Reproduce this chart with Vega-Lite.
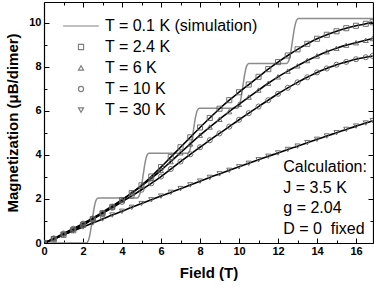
{
  "$schema": "https://vega.github.io/schema/vega-lite/v6.json",
  "width": 329,
  "height": 241,
  "autosize": {"type": "none"},
  "padding": {"left": 44, "top": 2, "right": 1, "bottom": 46},
  "background": "white",
  "config": {
    "view": {"stroke": null},
    "font": "Liberation Sans",
    "axis": {
      "domainColor": "black", "domainWidth": 1.2, "tickColor": "black", "tickWidth": 1,
      "labelFont": "Liberation Sans", "labelFontWeight": "bold", "labelFontSize": 11, "labelColor": "black",
      "titleFont": "Liberation Sans", "titleFontWeight": "bold", "titleFontSize": 15, "titleColor": "black",
      "grid": false
    }
  },
  "datasets": {
    "sim": [
      {"B":0,"M":0},{"B":2.17,"M":0},{"B":2.27,"M":0.1},{"B":2.37,"M":0.45},{"B":2.47,"M":1.02},{"B":2.57,"M":1.59},{"B":2.67,"M":1.94},{"B":2.77,"M":2.04},
      {"B":4.78,"M":2.04},{"B":4.88,"M":2.14},{"B":4.98,"M":2.49},{"B":5.08,"M":3.06},{"B":5.18,"M":3.63},{"B":5.28,"M":3.98},{"B":5.38,"M":4.08},
      {"B":7.36,"M":4.08},{"B":7.46,"M":4.18},{"B":7.56,"M":4.53},{"B":7.66,"M":5.1},{"B":7.76,"M":5.67},{"B":7.86,"M":6.02},{"B":7.96,"M":6.12},
      {"B":9.9,"M":6.12},{"B":10.0,"M":6.22},{"B":10.1,"M":6.57},{"B":10.2,"M":7.14},{"B":10.3,"M":7.71},{"B":10.4,"M":8.06},{"B":10.5,"M":8.16},
      {"B":12.44,"M":8.16},{"B":12.54,"M":8.26},{"B":12.64,"M":8.61},{"B":12.74,"M":9.18},{"B":12.84,"M":9.75},{"B":12.94,"M":10.1},{"B":13.04,"M":10.2},
      {"B":16.87,"M":10.2}
    ],
    "meas": [
      {"T":"2.4 K","B":0,"M":0},{"T":"2.4 K","B":0.5,"M":0.17},{"T":"2.4 K","B":1,"M":0.37},{"T":"2.4 K","B":1.5,"M":0.58},{"T":"2.4 K","B":2,"M":0.82},{"T":"2.4 K","B":2.5,"M":1.08},{"T":"2.4 K","B":3,"M":1.35},{"T":"2.4 K","B":3.5,"M":1.64},{"T":"2.4 K","B":4,"M":1.95},{"T":"2.4 K","B":4.5,"M":2.27},
      {"T":"2.4 K","B":5,"M":2.62},{"T":"2.4 K","B":5.5,"M":3.02},{"T":"2.4 K","B":6,"M":3.45},{"T":"2.4 K","B":6.5,"M":3.9},{"T":"2.4 K","B":7,"M":4.35},{"T":"2.4 K","B":7.5,"M":4.8},{"T":"2.4 K","B":8,"M":5.25},{"T":"2.4 K","B":8.5,"M":5.68},{"T":"2.4 K","B":9,"M":6.1},{"T":"2.4 K","B":9.5,"M":6.49},
      {"T":"2.4 K","B":10,"M":6.85},{"T":"2.4 K","B":10.5,"M":7.2},{"T":"2.4 K","B":11,"M":7.55},{"T":"2.4 K","B":11.5,"M":7.9},{"T":"2.4 K","B":12,"M":8.22},{"T":"2.4 K","B":12.5,"M":8.52},{"T":"2.4 K","B":13,"M":8.8},{"T":"2.4 K","B":13.5,"M":9.05},{"T":"2.4 K","B":14,"M":9.28},{"T":"2.4 K","B":14.5,"M":9.46},
      {"T":"2.4 K","B":15,"M":9.62},{"T":"2.4 K","B":15.5,"M":9.76},{"T":"2.4 K","B":16,"M":9.87},{"T":"2.4 K","B":16.5,"M":9.96},{"T":"2.4 K","B":16.85,"M":10.03},

      {"T":"6 K","B":0,"M":0},{"T":"6 K","B":0.5,"M":0.2},{"T":"6 K","B":1,"M":0.42},{"T":"6 K","B":1.5,"M":0.64},{"T":"6 K","B":2,"M":0.88},{"T":"6 K","B":2.5,"M":1.13},{"T":"6 K","B":3,"M":1.4},{"T":"6 K","B":3.5,"M":1.68},{"T":"6 K","B":4,"M":1.97},{"T":"6 K","B":4.5,"M":2.28},
      {"T":"6 K","B":5,"M":2.6},{"T":"6 K","B":5.5,"M":2.94},{"T":"6 K","B":6,"M":3.3},{"T":"6 K","B":6.5,"M":3.7},{"T":"6 K","B":7,"M":4.1},{"T":"6 K","B":7.5,"M":4.5},{"T":"6 K","B":8,"M":4.9},{"T":"6 K","B":8.5,"M":5.27},{"T":"6 K","B":9,"M":5.62},{"T":"6 K","B":9.5,"M":5.97},
      {"T":"6 K","B":10,"M":6.3},{"T":"6 K","B":10.5,"M":6.63},{"T":"6 K","B":11,"M":6.95},{"T":"6 K","B":11.5,"M":7.26},{"T":"6 K","B":12,"M":7.55},{"T":"6 K","B":12.5,"M":7.81},{"T":"6 K","B":13,"M":8.05},{"T":"6 K","B":13.5,"M":8.29},{"T":"6 K","B":14,"M":8.5},{"T":"6 K","B":14.5,"M":8.69},
      {"T":"6 K","B":15,"M":8.85},{"T":"6 K","B":15.5,"M":8.99},{"T":"6 K","B":16,"M":9.1},{"T":"6 K","B":16.5,"M":9.21},{"T":"6 K","B":16.85,"M":9.29},

      {"T":"10 K","B":0,"M":0},{"T":"10 K","B":0.5,"M":0.21},{"T":"10 K","B":1,"M":0.43},{"T":"10 K","B":1.5,"M":0.65},{"T":"10 K","B":2,"M":0.88},{"T":"10 K","B":2.5,"M":1.11},{"T":"10 K","B":3,"M":1.35},{"T":"10 K","B":3.5,"M":1.6},{"T":"10 K","B":4,"M":1.87},{"T":"10 K","B":4.5,"M":2.14},
      {"T":"10 K","B":5,"M":2.42},{"T":"10 K","B":5.5,"M":2.71},{"T":"10 K","B":6,"M":3.02},{"T":"10 K","B":6.5,"M":3.36},{"T":"10 K","B":7,"M":3.7},{"T":"10 K","B":7.5,"M":4.03},{"T":"10 K","B":8,"M":4.35},{"T":"10 K","B":8.5,"M":4.67},{"T":"10 K","B":9,"M":4.98},{"T":"10 K","B":9.5,"M":5.29},
      {"T":"10 K","B":10,"M":5.6},{"T":"10 K","B":10.5,"M":5.9},{"T":"10 K","B":11,"M":6.2},{"T":"10 K","B":11.5,"M":6.49},{"T":"10 K","B":12,"M":6.78},{"T":"10 K","B":12.5,"M":7.05},{"T":"10 K","B":13,"M":7.3},{"T":"10 K","B":13.5,"M":7.53},{"T":"10 K","B":14,"M":7.75},{"T":"10 K","B":14.5,"M":7.93},
      {"T":"10 K","B":15,"M":8.1},{"T":"10 K","B":15.5,"M":8.23},{"T":"10 K","B":16,"M":8.35},{"T":"10 K","B":16.5,"M":8.44},{"T":"10 K","B":16.85,"M":8.5},

      {"T":"30 K","B":0,"M":0},{"T":"30 K","B":0.5,"M":0.18},{"T":"30 K","B":1,"M":0.37},{"T":"30 K","B":1.5,"M":0.55},{"T":"30 K","B":2,"M":0.73},{"T":"30 K","B":2.5,"M":0.91},{"T":"30 K","B":3,"M":1.09},{"T":"30 K","B":3.5,"M":1.27},{"T":"30 K","B":4,"M":1.44},{"T":"30 K","B":4.5,"M":1.62},
      {"T":"30 K","B":5,"M":1.79},{"T":"30 K","B":5.5,"M":1.96},{"T":"30 K","B":6,"M":2.13},{"T":"30 K","B":6.5,"M":2.3},{"T":"30 K","B":7,"M":2.47},{"T":"30 K","B":7.5,"M":2.64},{"T":"30 K","B":8,"M":2.81},{"T":"30 K","B":8.5,"M":2.98},{"T":"30 K","B":9,"M":3.14},{"T":"30 K","B":9.5,"M":3.3},
      {"T":"30 K","B":10,"M":3.46},{"T":"30 K","B":10.5,"M":3.62},{"T":"30 K","B":11,"M":3.78},{"T":"30 K","B":11.5,"M":3.94},{"T":"30 K","B":12,"M":4.09},{"T":"30 K","B":12.5,"M":4.25},{"T":"30 K","B":13,"M":4.4},{"T":"30 K","B":13.5,"M":4.56},{"T":"30 K","B":14,"M":4.71},{"T":"30 K","B":14.5,"M":4.86},
      {"T":"30 K","B":15,"M":5.01},{"T":"30 K","B":15.5,"M":5.16},{"T":"30 K","B":16,"M":5.31},{"T":"30 K","B":16.5,"M":5.45},{"T":"30 K","B":16.85,"M":5.56}
    ]
  },
  "layer": [
    {
      "data": {"name": "sim"},
      "mark": {"type": "line", "color": "#8c8c8c", "strokeWidth": 1.5, "interpolate": "monotone", "clip": true},
      "encoding": {
        "x": {"field": "B", "type": "quantitative", "scale": {"domain": [0, 16.87], "nice": false, "zero": false},
          "axis": {"orient": "bottom", "title": "Field (T)", "values": [0,1,2,3,4,5,6,7,8,9,10,11,12,13,14,15,16],
            "labelExpr": "datum.value % 2 == 0 ? datum.label : ''",
            "tickSize": {"condition": {"test": "datum.value % 2 == 0", "value": -5}, "value": -3},
            "labelPadding": 7, "titlePadding": 9, "labelFlush": false}},
        "y": {"field": "M", "type": "quantitative", "scale": {"domain": [0, 10.95], "nice": false},
          "axis": {"orient": "left", "title": "Magnetization (μB/dimer)", "values": [0,1,2,3,4,5,6,7,8,9,10],
            "labelExpr": "datum.value % 2 == 0 ? datum.label : ''",
            "tickSize": {"condition": {"test": "datum.value % 2 == 0", "value": -5}, "value": -3},
            "labelPadding": 8, "titlePadding": 8, "labelFlush": false}}
      }
    },
    {
      "data": {"name": "meas"},
      "mark": {"type": "line", "color": "black", "strokeWidth": 1.6, "interpolate": "monotone", "clip": true},
      "encoding": {
        "x": {"field": "B", "type": "quantitative", "axis": null},
        "y": {"field": "M", "type": "quantitative", "axis": null},
        "detail": {"field": "T"}
      }
    },
    {
      "data": {"name": "meas"},
      "mark": {"type": "point", "filled": false, "color": "#606060", "size": 26, "strokeWidth": 0.9, "opacity": 1, "clip": true},
      "encoding": {
        "x": {"field": "B", "type": "quantitative",
          "axis": {"orient": "top", "title": null, "labels": false, "values": [0,1,2,3,4,5,6,7,8,9,10,11,12,13,14,15,16],
            "tickSize": {"condition": {"test": "datum.value % 2 == 0", "value": -5}, "value": -3}}},
        "y": {"field": "M", "type": "quantitative",
          "axis": {"orient": "right", "title": null, "labels": false, "values": [0,1,2,3,4,5,6,7,8,9,10],
            "tickSize": {"condition": {"test": "datum.value % 2 == 0", "value": -5}, "value": -3}}},
        "shape": {"field": "T", "type": "nominal",
          "scale": {"domain": ["0.1 K (simulation)", "2.4 K", "6 K", "10 K", "30 K"],
                    "range": ["M-7,0L7,0", "square", "triangle-up", "circle", "triangle-down"]},
          "legend": {"orient": "none", "legendX": 29, "legendY": 16, "title": null,
            "labelExpr": "'T = ' + datum.label", "labelFont": "Liberation Sans", "labelFontSize": 16, "labelColor": "black",
            "symbolSize": 26, "symbolStrokeColor": "#808080", "symbolStrokeWidth": 1.2, "symbolFillColor": "transparent",
            "rowPadding": 5, "labelOffset": 16}}
      }
    },
    {
      "data": {"values": [{"label": "Calculation:\nJ = 3.5 K\ng = 2.04\nD = 0\u00a0 fixed"}]},
      "mark": {"type": "text", "align": "left", "baseline": "top", "fontSize": 16, "font": "Liberation Sans", "color": "black", "lineBreak": "\n", "lineHeight": 20.5},
      "encoding": {
        "x": {"datum": 12.27, "type": "quantitative", "axis": null},
        "y": {"datum": 3.8, "type": "quantitative", "axis": null},
        "text": {"field": "label"}
      }
    }
  ],
  "resolve": {"axis": {"x": "independent", "y": "independent"}}
}
